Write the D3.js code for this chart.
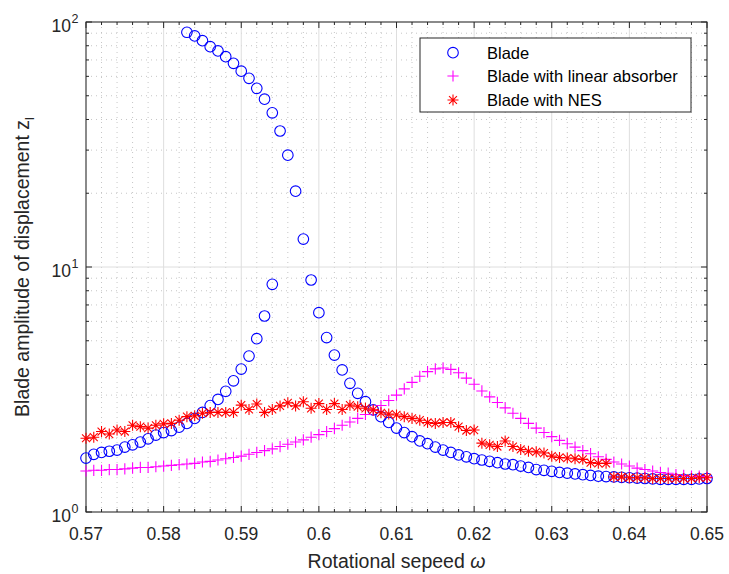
<!DOCTYPE html>
<html lang="en">
<head>
    <meta charset="UTF-8">
    <title>Blade amplitude vs rotational speed</title>
    <script src="https://d3js.org/d3.v7.min.js"></script>
    <style>
        body, html {
            margin: 0;
            padding: 0;
            background: #fff;
            font-family: "Liberation Sans", Arial, sans-serif;
        }
        svg { display: block; }
    </style>
</head>
<body>
<div id="chart"></div>
<script>
    // x values are spaced 0.001 apart
    const xStart = 0.57;
    const step = 0.001;

    // Blade: lower branch 0.570 - 0.594
    const bladeLower = [1.66, 1.72, 1.75, 1.77, 1.79, 1.84, 1.88, 1.93, 1.99, 2.06,
        2.11, 2.15, 2.22, 2.30, 2.41, 2.55, 2.72, 2.88, 3.11, 3.43,
        3.83, 4.33, 5.10, 6.31, 8.50];
    // Blade: upper branch 0.583 - 0.650
    const bladeUpperStart = 0.583;
    const bladeUpper = [90.8, 87.7, 83.9, 79.3, 76.2, 72.2, 67.8, 63.0, 58.9, 53.6,
        48.4, 42.6, 35.9, 28.6, 20.4, 13.0, 8.85, 6.51, 5.15, 4.37,
        3.80, 3.35, 3.05, 2.82, 2.61, 2.45, 2.32, 2.20, 2.11, 2.03,
        1.95, 1.90, 1.84, 1.79, 1.75, 1.71, 1.68, 1.65, 1.63, 1.61,
        1.59, 1.57, 1.56, 1.54, 1.52, 1.49, 1.48, 1.465, 1.45, 1.44,
        1.43, 1.42, 1.41, 1.40, 1.395, 1.39, 1.385, 1.38, 1.375, 1.37,
        1.365, 1.36, 1.36, 1.36, 1.36, 1.36, 1.365, 1.37];

    // Blade with linear absorber, 0.570 - 0.650
    const linearAbs = [1.47, 1.48, 1.48, 1.49, 1.49, 1.50, 1.51, 1.52, 1.52, 1.53,
        1.54, 1.55, 1.56, 1.57, 1.58, 1.60, 1.61, 1.63, 1.65, 1.67,
        1.69, 1.72, 1.75, 1.78, 1.81, 1.85, 1.89, 1.93, 1.97, 2.02,
        2.07, 2.13, 2.19, 2.26, 2.33, 2.41, 2.50, 2.60, 2.72, 2.85,
        3.00, 3.18, 3.38, 3.58, 3.74, 3.84, 3.87, 3.82, 3.70, 3.52,
        3.32, 3.12, 2.95, 2.80, 2.66, 2.53, 2.41, 2.30, 2.20, 2.11,
        2.03, 1.96, 1.90, 1.84, 1.78, 1.73, 1.68, 1.64, 1.60, 1.57,
        1.54, 1.51, 1.49, 1.47, 1.45, 1.44, 1.42, 1.41, 1.40, 1.40,
        1.39];

    // Blade with NES, 0.570 - 0.650
    const nes = [2.00, 2.02, 2.13, 2.08, 2.16, 2.13, 2.26, 2.23, 2.20, 2.26,
        2.29, 2.30, 2.37, 2.45, 2.47, 2.53, 2.55, 2.55, 2.55, 2.55,
        2.73, 2.62, 2.76, 2.55, 2.62, 2.71, 2.79, 2.71, 2.82, 2.65,
        2.77, 2.62, 2.77, 2.62, 2.73, 2.69, 2.65, 2.61, 2.54, 2.51,
        2.49, 2.45, 2.41, 2.37, 2.32, 2.30, 2.32, 2.32, 2.23, 2.15,
        2.16, 1.91, 1.88, 1.85, 1.95, 1.85, 1.80, 1.77, 1.76, 1.74,
        1.69, 1.67, 1.66, 1.65, 1.64, 1.59, 1.58, 1.58, 1.39, 1.39,
        1.38, 1.38, 1.38, 1.37, 1.37, 1.37, 1.37, 1.37, 1.37, 1.38,
        1.38];

    const xTicks = [0.57, 0.58, 0.59, 0.6, 0.61, 0.62, 0.63, 0.64, 0.65];
    const xTickLabels = ["0.57", "0.58", "0.59", "0.6", "0.61", "0.62", "0.63", "0.64", "0.65"];
    const yTicks = [1, 10, 100];
    const yTickExp = ["0", "1", "2"];
    const legendNames = ["Blade", "Blade with linear absorber", "Blade with NES"];

    const toPoints = (arr, x0) => arr.map((v, i) => ({x: x0 + i * step, y: v}));
    const bladePts = toPoints(bladeLower, xStart).concat(toPoints(bladeUpper, bladeUpperStart));
    const linPts = toPoints(linearAbs, xStart);
    const nesPts = toPoints(nes, xStart);

    const width = 729, height = 574;
    const margin = {top: 22, right: 22, bottom: 62, left: 86};
    const innerW = width - margin.left - margin.right;
    const innerH = height - margin.top - margin.bottom;

    const svg = d3.select("#chart").append("svg")
        .attr("width", width)
        .attr("height", height);
    const g = svg.append("g")
        .attr("transform", `translate(${margin.left},${margin.top})`);

    const x = d3.scaleLinear().domain([0.57, 0.65]).range([0, innerW]);
    const y = d3.scaleLog().domain([1, 100]).range([innerH, 0]);

    const axisColor = "#262626";

    // minor grid values
    const xMinor = d3.range(0, 41).map(i => 0.57 + i * 0.002)
        .filter((v, i) => i % 5 !== 0);
    const yMinor = [];
    [1, 10].forEach(d => { for (let k = 2; k <= 9; k++) yMinor.push(d * k); });

    // minor grid (dotted)
    g.append("g").selectAll("line").data(xMinor).enter().append("line")
        .attr("x1", d => x(d)).attr("x2", d => x(d))
        .attr("y1", 0).attr("y2", innerH)
        .attr("stroke", "#b8b8b8").attr("stroke-width", 0.8)
        .attr("stroke-dasharray", "1,4");
    g.append("g").selectAll("line").data(yMinor).enter().append("line")
        .attr("y1", d => y(d)).attr("y2", d => y(d))
        .attr("x1", 0).attr("x2", innerW)
        .attr("stroke", "#b8b8b8").attr("stroke-width", 0.8)
        .attr("stroke-dasharray", "1,4");

    // major grid
    g.append("g").selectAll("line").data(xTicks).enter().append("line")
        .attr("x1", d => x(d)).attr("x2", d => x(d))
        .attr("y1", 0).attr("y2", innerH)
        .attr("stroke", "#dedede").attr("stroke-width", 1);
    g.append("g").selectAll("line").data(yTicks).enter().append("line")
        .attr("y1", d => y(d)).attr("y2", d => y(d))
        .attr("x1", 0).attr("x2", innerW)
        .attr("stroke", "#dedede").attr("stroke-width", 1);

    // ticks on all four sides, pointing inward
    const tickG = g.append("g").attr("stroke", axisColor).attr("stroke-width", 1);
    const isMajorX = d => xTicks.some(t => Math.abs(t - d) < 1e-9);
    xTicks.concat(xMinor).forEach(d => {
        const len = isMajorX(d) ? 6 : 3;
        tickG.append("line").attr("x1", x(d)).attr("x2", x(d))
            .attr("y1", innerH).attr("y2", innerH - len);
        tickG.append("line").attr("x1", x(d)).attr("x2", x(d))
            .attr("y1", 0).attr("y2", len);
    });
    yTicks.concat(yMinor).forEach(d => {
        const len = yTicks.includes(d) ? 6 : 3;
        tickG.append("line").attr("y1", y(d)).attr("y2", y(d))
            .attr("x1", 0).attr("x2", len);
        tickG.append("line").attr("y1", y(d)).attr("y2", y(d))
            .attr("x1", innerW).attr("x2", innerW - len);
    });

    // box
    g.append("rect")
        .attr("width", innerW).attr("height", innerH)
        .attr("fill", "none").attr("stroke", axisColor).attr("stroke-width", 1);

    // x tick labels
    g.append("g").selectAll("text").data(xTicks).enter().append("text")
        .attr("x", d => x(d))
        .attr("y", innerH + 28)
        .attr("text-anchor", "middle")
        .attr("fill", axisColor)
        .style("font-size", "17.5px")
        .text((d, i) => xTickLabels[i]);

    // y tick labels: "10" plus a superscript exponent
    const yl = g.append("g").selectAll("g").data(yTicks).enter().append("g")
        .attr("fill", axisColor);
    yl.append("text")
        .attr("x", -15).attr("y", d => y(d) + 10)
        .attr("text-anchor", "end")
        .style("font-size", "17.5px")
        .text("10");
    yl.append("text")
        .attr("x", -14.5).attr("y", d => y(d) + 1)
        .attr("text-anchor", "start")
        .style("font-size", "12.5px")
        .text((d, i) => yTickExp[i]);

    // axis labels
    const xl = svg.append("text")
        .attr("x", margin.left + innerW / 2)
        .attr("y", height - 6)
        .attr("text-anchor", "middle")
        .attr("fill", axisColor)
        .style("font-size", "19.5px");
    xl.append("tspan").text("Rotational sepeed ");
    xl.append("tspan").style("font-style", "italic").text("\u03C9");

    const ylab = svg.append("text")
        .attr("transform", `translate(29,${margin.top + innerH / 2}) rotate(-90)`)
        .attr("text-anchor", "middle")
        .attr("fill", axisColor)
        .style("font-size", "19.5px");
    ylab.append("tspan").text("Blade amplitude of displacement z");
    ylab.append("tspan").attr("dy", 5).style("font-size", "13px").text("l");

    // marker shapes
    const plusPath = s => `M${-s},0H${s}M0,${-s}V${s}`;
    const starPath = s => {
        const d = s * 0.72;
        return `M${-s},0H${s}M0,${-s}V${s}M${-d},${-d}L${d},${d}M${-d},${d}L${d},${-d}`;
    };

    const plot = g.append("g");

    plot.selectAll("circle").data(bladePts).enter().append("circle")
        .attr("cx", d => x(d.x)).attr("cy", d => y(d.y))
        .attr("r", 5.3)
        .attr("fill", "none").attr("stroke", "#0000ff").attr("stroke-width", 1.1);

    plot.selectAll("path.lin").data(linPts).enter().append("path")
        .attr("class", "lin")
        .attr("transform", d => `translate(${x(d.x)},${y(d.y)})`)
        .attr("d", plusPath(5.6))
        .attr("fill", "none").attr("stroke", "#ff00ff").attr("stroke-width", 1.1);

    plot.selectAll("path.nes").data(nesPts).enter().append("path")
        .attr("class", "nes")
        .attr("transform", d => `translate(${x(d.x)},${y(d.y)})`)
        .attr("d", starPath(5.5))
        .attr("fill", "none").attr("stroke", "#ff0000").attr("stroke-width", 1.1);

    // legend
    const lg = svg.append("g").attr("transform", "translate(420,38)");
    lg.append("rect")
        .attr("width", 271).attr("height", 74)
        .attr("fill", "#fff").attr("stroke", axisColor).attr("stroke-width", 1);
    const rows = [14.7, 38, 62];
    const mk = lg.selectAll("g.item").data(legendNames).enter().append("g")
        .attr("transform", (d, i) => `translate(0,${rows[i]})`);
    mk.append("text")
        .attr("x", 67).attr("y", 6)
        .attr("fill", "#000")
        .style("font-size", "16.5px")
        .text(d => d);
    mk.filter((d, i) => i === 0).append("circle")
        .attr("cx", 33).attr("cy", 0).attr("r", 5.3)
        .attr("fill", "none").attr("stroke", "#0000ff").attr("stroke-width", 1.1);
    mk.filter((d, i) => i === 1).append("path")
        .attr("transform", "translate(33,0)").attr("d", plusPath(5.6))
        .attr("fill", "none").attr("stroke", "#ff00ff").attr("stroke-width", 1.1);
    mk.filter((d, i) => i === 2).append("path")
        .attr("transform", "translate(33,0)").attr("d", starPath(5.5))
        .attr("fill", "none").attr("stroke", "#ff0000").attr("stroke-width", 1.1);
</script>
</body>
</html>
